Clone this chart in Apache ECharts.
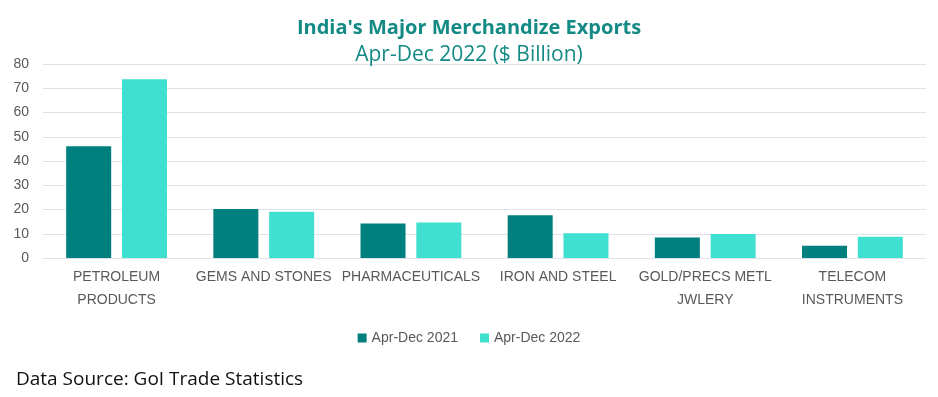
<!DOCTYPE html>
<html>
<head>
<meta charset="utf-8">
<script src="https://cdn.jsdelivr.net/npm/echarts@6/dist/echarts.min.js"></script>
<style>
  html, body { margin: 0; padding: 0; background: #fff; }
  #chart { width: 938px; height: 397px; }
</style>
</head>
<body>
<div id="chart"></div>
<script>
// values, $ billion
var categories = [
  "PETROLEUM\nPRODUCTS",
  "GEMS AND STONES",
  "PHARMACEUTICALS",
  "IRON AND STEEL",
  "GOLD/PRECS METL\nJWLERY",
  "TELECOM\nINSTRUMENTS"
];
var exports2021 = [46.1, 20.2, 14.2, 17.6, 8.5, 5.1];
var exports2022 = [73.7, 19.1, 14.6, 10.2, 9.9, 8.8];
var seriesNames = ["Apr-Dec 2021", "Apr-Dec 2022"];
var yTicks = { min: 0, max: 80, interval: 10 };

var labelFont = "'Liberation Sans', Arial, sans-serif";
var headFont = "'Open Sans', 'Noto Sans', sans-serif";

var chart = echarts.init(document.getElementById("chart"), null, { renderer: "canvas" });

var option = {
  animation: false,
  title: [{
    text: "India's Major Merchandize Exports",
    left: "center",
    top: 13,
    textStyle: { color: "#138a84", fontFamily: headFont, fontWeight: "bold", fontSize: 20 }
  }, {
    text: "Apr-Dec 2022 ($ Billion)",
    left: "center",
    top: 40,
    textStyle: { color: "#138a84", fontFamily: headFont, fontWeight: "normal", fontSize: 21 }
  }, {
    text: "Data Source: GoI Trade Statistics",
    left: 11,
    top: 365,
    textStyle: { color: "#111", fontFamily: headFont, fontWeight: "normal", fontSize: 19 }
  }],
  legend: {
    data: seriesNames,
    top: 326,
    left: "center",
    icon: "rect",
    itemWidth: 9,
    itemHeight: 9,
    itemGap: 22,
    textStyle: { color: "#595959", fontFamily: labelFont, fontSize: 14 }
  },
  grid: { left: 43, right: 12, top: 64, bottom: 139, containLabel: false },
  xAxis: {
    type: "category",
    data: categories,
    axisLine: { show: true, lineStyle: { color: "#dfe2e8", width: 1 } },
    axisTick: { show: false },
    axisLabel: {
      color: "#595959", fontFamily: labelFont, fontSize: 14,
      lineHeight: 23, margin: 8, interval: 0
    }
  },
  yAxis: {
    type: "value",
    min: yTicks.min,
    max: yTicks.max,
    interval: yTicks.interval,
    axisLine: { show: false },
    axisTick: { show: false },
    splitLine: { lineStyle: { color: "#dfe2e8", width: 1 } },
    axisLabel: { color: "#595959", fontFamily: labelFont, fontSize: 14, margin: 14 }
  },
  series: [{
    name: seriesNames[0],
    type: "bar",
    data: exports2021,
    barWidth: 45,
    barGap: "24%",
    itemStyle: { color: "#007f7f" }
  }, {
    name: seriesNames[1],
    type: "bar",
    data: exports2022,
    barWidth: 45,
    itemStyle: { color: "#40e0d0" }
  }]
};

chart.setOption(option);
</script>
</body>
</html>
